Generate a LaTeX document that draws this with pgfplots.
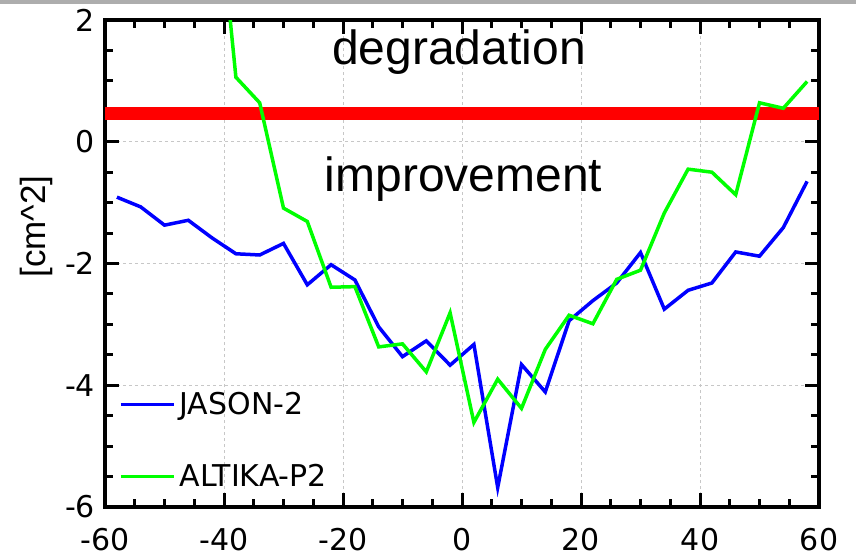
\documentclass[border=0pt]{standalone}
\usepackage{pgfplots}
\pgfplotsset{compat=1.18}
\usepackage{fontspec}
\setmainfont{DejaVu Sans}
\newfontfamily\lib{Liberation Sans}
\definecolor{lgreen}{RGB}{0,255,0}
\definecolor{lblue}{RGB}{0,0,255}
\definecolor{lred}{RGB}{255,0,0}
\begin{document}
\begin{tikzpicture}
\begin{axis}[
  scale only axis, width=357pt, height=243.5pt,
  xmin=-60, xmax=60, ymin=-6, ymax=2,
  xtick={-60,-40,...,60}, ytick={-6,-4,...,2},
  minor x tick num=3, minor y tick num=3,
  grid=major,
  major grid style={dash pattern=on 1.5pt off 1.5pt, color=black!22, line width=0.5pt},
  axis line style={line width=2pt},
  major tick length=7pt, minor tick length=4pt,
  tick style={black, line width=1.5pt},
  tick label style={font=\fontsize{15}{18}\selectfont},
  /pgf/number format/assume math mode=true,
  xticklabel style={yshift=-7.3pt},
  yticklabel style={xshift=-1.5pt},
  ylabel={[cm\textasciicircum 2]},
  ylabel style={font=\lib\fontsize{17.5}{21}\selectfont, at={(axis description cs:-0.0957,0.5756)}, anchor=center},
  legend style={draw=none, fill=none, font=\fontsize{15}{18}\selectfont, at={(0.0108,0.2538)}, anchor=north west, row sep=19.5pt},
  legend cell align=left,
  legend image code/.code={\draw[#1] (0pt,0pt) -- (19pt,0pt); \path (0pt,0pt) -- (26.5pt,0pt);},
]
\addplot[lred, line width=6.5pt, forget plot] coordinates {(-60,0.47) (60,0.47)};
\addplot[lblue, line width=1.75pt] coordinates {
(-58,-0.91) (-54,-1.07) (-50,-1.37) (-46,-1.29) (-42,-1.58) (-38,-1.84) (-34,-1.86) (-30,-1.67)
(-26,-2.35) (-22,-2.02) (-18,-2.27) (-14,-3.04) (-10,-3.53) (-6,-3.27) (-2,-3.67) (2,-3.33)
(6,-5.68) (10,-3.66) (14,-4.11) (18,-2.94) (22,-2.61) (26,-2.32) (30,-1.82) (34,-2.75)
(38,-2.44) (42,-2.32) (46,-1.81) (50,-1.88) (54,-1.41) (58,-0.65)};
\addlegendentry{JASON-2}
\addplot[lgreen, line width=1.75pt] coordinates {
(-42,5.0) (-38,1.06) (-34,0.64) (-30,-1.09) (-26,-1.31) (-22,-2.39) (-18,-2.38) (-14,-3.37)
(-10,-3.32) (-6,-3.78) (-2,-2.81) (2,-4.61) (6,-3.90) (10,-4.38) (14,-3.41) (18,-2.85)
(22,-2.99) (26,-2.26) (30,-2.11) (34,-1.17) (38,-0.45) (42,-0.50) (46,-0.87) (50,0.64)
(54,0.55) (58,0.99)};
\addlegendentry{ALTIKA-P2}
\node[font=\lib\fontsize{24}{28}\selectfont, anchor=base] at (axis cs:-0.5,1.264) {degradation};
\node[font=\lib\fontsize{24}{28}\selectfont, anchor=base] at (axis cs:0.25,-0.816) {improvement};
\end{axis}
\pgfresetboundingbox
\path[use as bounding box] ([shift={(-52.5pt,-25.5pt)}]current axis.south west) rectangle ([shift={(375.5pt,253.5pt)}]current axis.south west);
\fill[black!32] ([shift={(-52.5pt,251.3pt)}]current axis.south west) rectangle ([shift={(375.5pt,253.5pt)}]current axis.south west);
\end{tikzpicture}
\end{document}
